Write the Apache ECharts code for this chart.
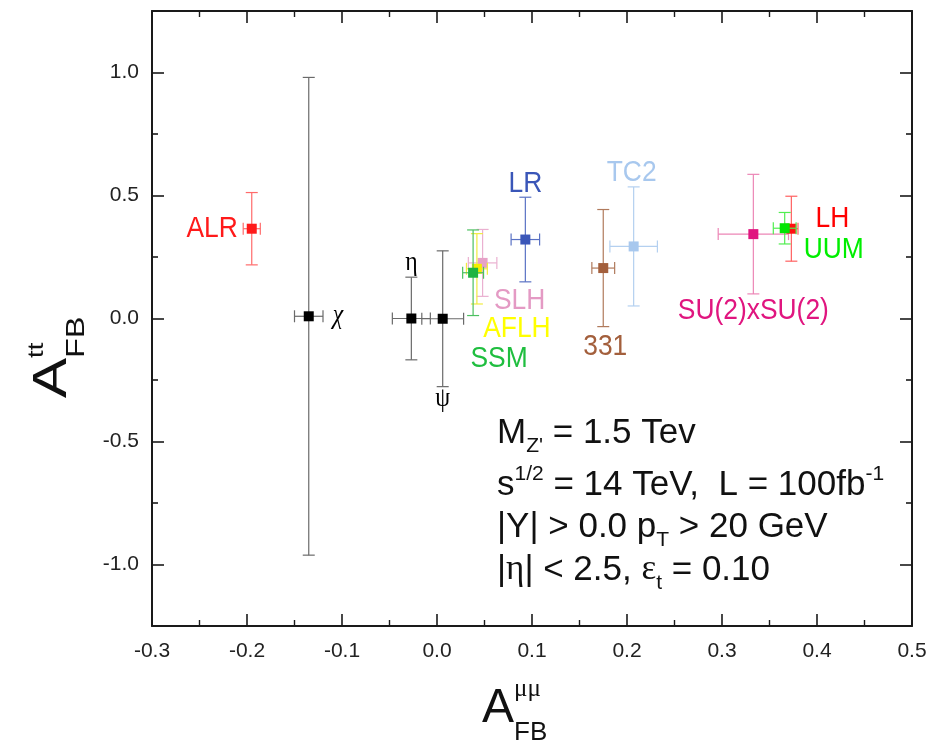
<!DOCTYPE html>
<html>
<head>
<meta charset="utf-8">
<script src="https://cdn.jsdelivr.net/npm/echarts@6/dist/echarts.min.js"></script>
<style>
  html, body { margin: 0; padding: 0; background: #ffffff; }
  #chart { width: 947px; height: 749px; }
</style>
</head>
<body>
<div id="chart"></div>
<script>
// Z' models: forward-backward asymmetries with statistical errors (drawing order)
const models   = ['ALR', 'χ', 'η', 'ψ', 'SLH', 'AFLH', 'SSM', 'LR', '331', 'TC2', 'SU(2)xSU(2)', 'LH', 'UUM'];
const afbMuMu  = [-0.195, -0.135, -0.027, 0.006, 0.048, 0.042, 0.038, 0.093, 0.175, 0.207, 0.333, 0.373, 0.366];
const afbTT    = [0.365, 0.009, 0.000, -0.001, 0.226, 0.202, 0.186, 0.321, 0.205, 0.293, 0.343, 0.365, 0.367];
const errMuMu  = [0.009, 0.015, 0.020, 0.022, 0.015, 0.011, 0.011, 0.015, 0.012, 0.025, 0.037, 0.007, 0.012];
const errTT    = [0.147, 0.971, 0.168, 0.276, 0.136, 0.143, 0.174, 0.172, 0.238, 0.242, 0.243, 0.132, 0.064];

// axis tick values
const xTickValues = [-0.3, -0.2, -0.1, 0.0, 0.1, 0.2, 0.3, 0.4, 0.5];
const yTickValues = [-1.0, -0.5, 0.0, 0.5, 1.0];
const yMinorValues = [-0.75, -0.25, 0.25, 0.75];

const SANS = "'Liberation Sans', Arial, Helvetica, sans-serif";
const SERIF = "'Liberation Serif', 'DejaVu Serif', 'Times New Roman', serif";

// per-model styling: marker colour, error-bar colour, label colour, label font and placement
const modelStyle = {
  'ALR':         { marker: '#ff1a1a', bar: '#ff6a6a', text: '#ff1a1a', dx: -14, dy: 0,   align: 'right' },
  'χ':           { marker: '#000000', bar: '#6a6a6a', text: '#000000', dx: 24,  dy: 0,   align: 'left', serif: true, italic: true },
  'η':           { marker: '#000000', bar: '#6a6a6a', text: '#000000', dx: 0,   dy: -56, align: 'center', serif: true },
  'ψ':           { marker: '#000000', bar: '#6a6a6a', text: '#000000', dx: 0,   dy: 80,  align: 'center', serif: true },
  'SLH':         { marker: '#e6a2c8', bar: '#eab0d0', text: '#e49ac4', dx: 37,  dy: 38,  align: 'center' },
  'AFLH':        { marker: '#f4ee00', bar: '#f0ec40', text: '#ffff00', dx: 40,  dy: 60,  align: 'center' },
  'SSM':         { marker: '#1fb441', bar: '#4cc060', text: '#1fbe3f', dx: 26,  dy: 86,  align: 'center' },
  'LR':          { marker: '#3a56b8', bar: '#5a72c4', text: '#3a56b8', dx: 0,   dy: -56, align: 'center' },
  '331':         { marker: '#a35f3c', bar: '#b07a5c', text: '#a35f3c', dx: 2,   dy: 79,  align: 'center' },
  'TC2':         { marker: '#a8c8ee', bar: '#b4d0f0', text: '#a8c8ee', dx: -2,  dy: -74, align: 'center' },
  'SU(2)xSU(2)': { marker: '#e0157f', bar: '#ec86b6', text: '#e0157f', dx: 0,   dy: 77,  align: 'center' },
  'LH':          { marker: '#ff1010', bar: '#ff6060', text: '#ff0000', dx: 41,  dy: -10, align: 'center' },
  'UUM':         { marker: '#00e600', bar: '#50ee50', text: '#00ee00', dx: 49,  dy: 22,  align: 'center' }
};

const MARKER = 10;        // square marker side, px
const CAP = 6;            // half length of error-bar caps, px
const LABEL_SIZE = 30;    // model label font size
const LABEL_SQUEEZE = 0.88;

const pointData = models.map((m, i) => ({ name: m, value: [afbMuMu[i], afbTT[i], errMuMu[i], errTT[i]] }));

function renderPoint(params, api) {
  const name = models[params.dataIndex];
  const st = modelStyle[name];
  const x = api.value(0), y = api.value(1), ex = api.value(2), ey = api.value(3);
  const c = api.coord([x, y]);
  const l = api.coord([x - ex, y]), r = api.coord([x + ex, y]);
  const t = api.coord([x, y + ey]), b = api.coord([x, y - ey]);
  const line = (x1, y1, x2, y2) => ({
    type: 'line',
    shape: { x1, y1, x2, y2 },
    style: { stroke: st.bar, lineWidth: 1.2 }
  });
  return {
    type: 'group',
    children: [
      line(t[0], t[1], b[0], b[1]),
      line(t[0] - CAP, t[1], t[0] + CAP, t[1]),
      line(b[0] - CAP, b[1], b[0] + CAP, b[1]),
      line(l[0], l[1], r[0], r[1]),
      line(l[0], l[1] - CAP, l[0], l[1] + CAP),
      line(r[0], r[1] - CAP, r[0], r[1] + CAP),
      {
        type: 'rect',
        shape: { x: c[0] - MARKER / 2, y: c[1] - MARKER / 2, width: MARKER, height: MARKER },
        style: { fill: st.marker }
      },
      {
        type: 'text',
        x: c[0] + st.dx,
        y: c[1] + st.dy,
        scaleX: LABEL_SQUEEZE,
        style: {
          text: name,
          fill: st.text,
          fontSize: st.serif ? 27 : LABEL_SIZE,
          fontFamily: st.serif ? SERIF : SANS,
          fontStyle: st.italic ? 'italic' : 'normal',
          align: st.align,
          verticalAlign: 'middle',
          textAlign: st.align,
          textVerticalAlign: 'middle'
        }
      }
    ]
  };
}

// text runs with sub/superscripts, laid out by measured widths
const measureCtx = document.createElement('canvas').getContext('2d');
function measure(text, size, family, style) {
  measureCtx.font = (style || 'normal') + ' ' + size + 'px ' + family;
  return measureCtx.measureText(text).width;
}
// each piece: {text, size, shift (baseline offset, + = down), serif, italic, stack}
function runChildren(pieces, color) {
  const out = [];
  let x = 0, prevStart = 0, prevEnd = 0;
  pieces.forEach(p => {
    const fam = p.serif ? SERIF : SANS;
    const sty = p.italic ? 'italic' : 'normal';
    const start = p.stack ? prevStart : x;
    const w = measure(p.text, p.size, fam, sty);
    out.push({
      type: 'text',
      x: start,
      y: (p.shift || 0) - 0.31 * p.size,
      style: {
        text: p.text, fill: color, fontSize: p.size, fontFamily: fam, fontStyle: sty,
        align: 'left', verticalAlign: 'middle', textAlign: 'left', textVerticalAlign: 'middle'
      }
    });
    const end = start + w;
    x = p.stack ? Math.max(prevEnd, end) : end;
    if (!p.stack) prevStart = start;
    prevEnd = x;
  });
  return out;
}

const INFO = 35, INFO_SMALL = 21;
const infoLines = [
  [{ text: 'M', size: INFO }, { text: "Z'", size: INFO_SMALL, shift: 9 }, { text: ' = 1.5 Tev', size: INFO }],
  [{ text: 's', size: INFO }, { text: '1/2', size: INFO_SMALL, shift: -15 }, { text: ' = 14 TeV,  L = 100fb', size: INFO }, { text: '-1', size: INFO_SMALL, shift: -15 }],
  [{ text: '|Y| > 0.0 p', size: INFO }, { text: 'T', size: INFO_SMALL, shift: 9 }, { text: ' > 20 GeV', size: INFO }],
  [{ text: '|', size: INFO }, { text: 'η', size: INFO, serif: true }, { text: '| < 2.5, ', size: INFO }, { text: 'ε', size: INFO, serif: true }, { text: 't', size: INFO_SMALL, shift: 9 }, { text: ' = 0.10', size: INFO }]
];
const infoBaselines = [444, 496, 538, 581];

const graphics = infoLines.map((pieces, i) => ({
  type: 'group', x: 497, y: infoBaselines[i], silent: true,
  children: runChildren(pieces, '#111111')
}));

// x axis title  A_FB^μμ
graphics.push({
  type: 'group', x: 482, y: 724, silent: true,
  children: runChildren([
    { text: 'A', size: 48 },
    { text: 'FB', size: 26, shift: 17 },
    { text: 'μμ', size: 25, serif: true, shift: -27, stack: true }
  ], '#111111')
});
// y axis title  A_FB^tt (rotated, reading upwards)
graphics.push({
  type: 'group', x: 68, y: 398, rotation: Math.PI / 2, scaleX: 1.25, silent: true,
  children: runChildren([
    { text: 'A', size: 48 },
    { text: 'FB', size: 26, shift: 17 },
    { text: 'tt', size: 22, shift: -24, stack: true }
  ], '#111111')
});

const axisColor = '#1a1a1a';
const fmt = v => (Math.abs(v) < 1e-9 ? '0.0' : v.toFixed(1));

function xAxisCfg(pos, labels) {
  return {
    type: 'value', position: pos, min: -0.3, max: 0.5, interval: 0.1,
    axisLine: { show: true, onZero: false, lineStyle: { color: axisColor, width: 2 } },
    axisTick: { show: true, inside: true, length: 12, lineStyle: { color: axisColor, width: 1.6 } },
    minorTick: { show: true, splitNumber: 2, length: 6, lineStyle: { color: axisColor, width: 1.4 } },
    axisLabel: { show: labels, customValues: xTickValues, formatter: fmt, fontSize: 21, fontFamily: SANS, color: '#222222', margin: 15 },
    splitLine: { show: false }, minorSplitLine: { show: false }
  };
}
function yAxisCfg(pos, ticks, len, labels, line) {
  return {
    type: 'value', position: pos, min: -1.25, max: 1.25, offset: 0,
    axisLine: { show: line, onZero: false, lineStyle: { color: axisColor, width: 2 } },
    axisTick: { show: true, inside: true, length: len, customValues: ticks, lineStyle: { color: axisColor, width: 1.6 } },
    axisLabel: { show: labels, customValues: yTickValues, formatter: fmt, fontSize: 21, fontFamily: SANS, color: '#222222', margin: 13 },
    splitLine: { show: false }
  };
}

const chart = echarts.init(document.getElementById('chart'), null, { renderer: 'canvas' });
chart.setOption({
  backgroundColor: '#ffffff',
  animation: false,
  grid: { left: 152, right: 35, top: 11, bottom: 123, containLabel: false },
  xAxis: [xAxisCfg('bottom', true), xAxisCfg('top', false)],
  yAxis: [
    yAxisCfg('left', yTickValues, 12, true, true),
    yAxisCfg('left', yMinorValues, 6, false, false),
    yAxisCfg('right', yTickValues, 12, false, true),
    yAxisCfg('right', yMinorValues, 6, false, false)
  ],
  series: [{
    type: 'custom',
    xAxisIndex: 0,
    yAxisIndex: 0,
    renderItem: renderPoint,
    data: pointData,
    clip: false
  }],
  graphic: graphics
});
</script>
</body>
</html>
